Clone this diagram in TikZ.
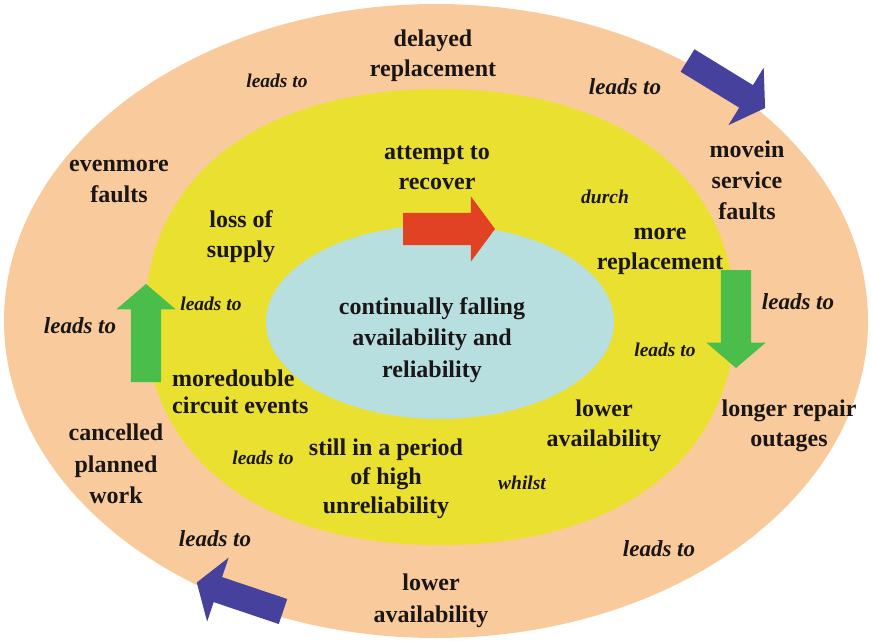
\documentclass[tikz,border=0pt]{standalone}
\usepackage{fontspec}
\setmainfont{Liberation Serif}
\usetikzlibrary{shapes.arrows}

\definecolor{ringpeach}{RGB}{249,203,156}
\definecolor{ringyellow}{RGB}{233,224,48}
\definecolor{corecyan}{RGB}{184,223,224}
\definecolor{arrowred}{RGB}{224,66,35}
\definecolor{arrowgreen}{RGB}{74,189,74}
\definecolor{arrowblue}{RGB}{70,65,156}
\definecolor{ink}{RGB}{26,22,22}

\begin{document}
\begin{tikzpicture}[x=1pt,y=-1pt,
  phrase/.style={font=\fontsize{24}{30}\selectfont\bfseries,align=center,
                 text=ink,inner sep=0pt},
  link/.style={font=\fontsize{19.5}{24}\selectfont\bfseries\itshape,
               text=ink,inner sep=0pt},
  biglink/.style={link,font=\fontsize{23}{28}\selectfont\bfseries\itshape},
  fatarrow/.style={single arrow,draw=none,inner xsep=0pt,outer sep=0pt,anchor=tail},
  greenarrow/.style={fatarrow,fill=arrowgreen,minimum height=98pt,minimum width=59pt,
                     inner ysep=15pt,single arrow head extend=14.5pt,
                     single arrow tip angle=99},
  redarrow/.style={fatarrow,fill=arrowred,minimum height=92pt,minimum width=65pt,
                   inner ysep=16pt,single arrow head extend=16.5pt,
                   single arrow tip angle=107},
  bluearrow/.style={fatarrow,fill=arrowblue,minimum height=91pt,minimum width=67pt,
                    inner ysep=13pt,single arrow head extend=20.5pt,
                    single arrow tip angle=113},
]
\useasboundingbox (0,0) rectangle (872,640);

%% ---- The three rings -------------------------------------------------------
\fill[ringpeach] (436,321) ellipse [x radius=432pt,y radius=317pt];
% middle ring is a little fuller than a true ellipse
\fill[ringyellow] (145,317) .. controls (145,177.3) and (259.3,89) .. (440,89)
                            .. controls (620.7,89) and (735,177.3) .. (735,317)
                            .. controls (735,456.7) and (620.7,545) .. (440,545)
                            .. controls (259.3,545) and (145,456.7) .. (145,317) -- cycle;
\fill[corecyan] (440,322) ellipse [x radius=174pt,y radius=97pt];

%% ---- Core ------------------------------------------------------------------
\node[phrase,font=\fontsize{24}{31.5}\selectfont\bfseries] (core) at (432,340)
  {continually falling\\availability and\\reliability};

%% ---- Inner cycle -----------------------------------------------------------
\node[phrase] (attempt) at (437,168)   {attempt to\\recover};
\node[phrase] (more)    at (660,251)   {more\\replacement};
\node[phrase] (lowin)   at (604,425.5) {lower\\availability};
\node[phrase,font=\fontsize{24}{29}\selectfont\bfseries] (still) at (386,478.5)
  {still in a period\\of high\\unreliability};
\node[phrase,font=\fontsize{24}{27}\selectfont\bfseries,align=left,anchor=west]
  (double) at (172,391.5) {moredouble\\circuit events};
\node[phrase] (loss)    at (241,236.5) {loss of\\supply};

\node[link] (durch)  at (605,197) {durch};
\node[link] (lead1)  at (665,350) {leads to};
\node[link] (whilst) at (522,483) {whilst};
\node[link] (lead2)  at (263,458) {leads to};
\node[link] (lead3)  at (211,304) {leads to};

%% ---- Outer cycle -----------------------------------------------------------
\node[phrase] (delayed) at (433,56) {delayed\\replacement};
\node[phrase,font=\fontsize{24}{31}\selectfont\bfseries] (movein) at (747,180)
  {movein\\service\\faults};
\node[phrase] (longer) at (789,426) {longer repair\\outages};
\node[phrase,font=\fontsize{24}{32}\selectfont\bfseries] (lowout) at (431,601)
  {lower\\availability};
\node[phrase,font=\fontsize{24}{31.5}\selectfont\bfseries] (cancel) at (116,464)
  {cancelled\\planned\\work};
\node[phrase,font=\fontsize{24}{31}\selectfont\bfseries] (even) at (119,181.5)
  {evenmore\\faults};

\node[link]    (lead4) at (277,81)  {leads to};
\node[biglink] (lead5) at (625,87)  {leads to};
\node[biglink] (lead6) at (798,302) {leads to};
\node[biglink] (lead7) at (659,549) {leads to};
\node[biglink] (lead8) at (215,539) {leads to};
\node[biglink] (lead9) at (80,326)  {leads to};

%% ---- Block arrows ----------------------------------------------------------
\node[redarrow]               (toright) at (403,229)    {};
\node[greenarrow,rotate=-90]  (todown)  at (736,270)    {};
\node[greenarrow,rotate=90]   (toup)    at (146,382)    {};
\node[bluearrow,rotate=-31.5] (clock)   at (687.5,60.5) {};
\node[bluearrow,rotate=161.4] (back)    at (283,611.5)  {};

\end{tikzpicture}
\end{document}
